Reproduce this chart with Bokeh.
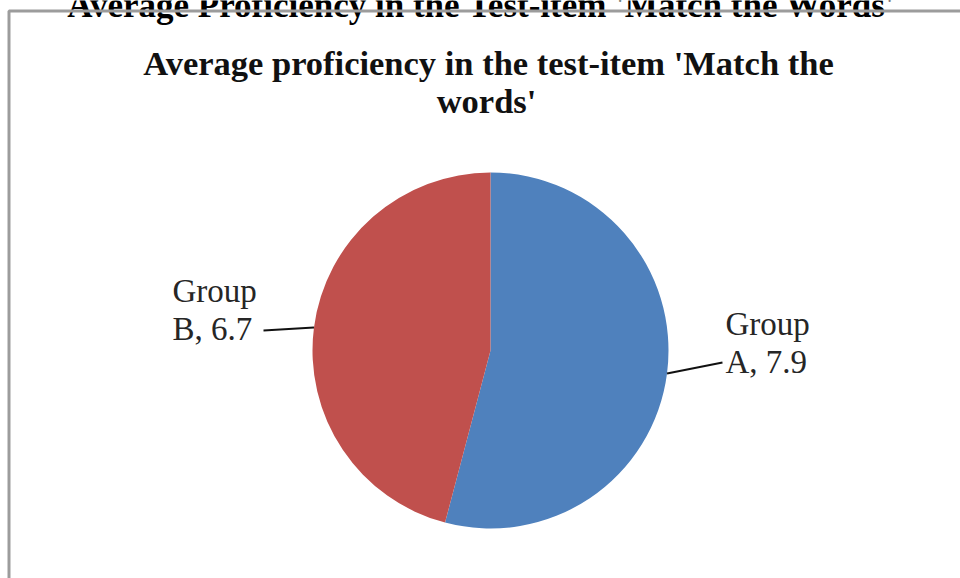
import math
from bokeh.plotting import figure
from bokeh.models import Range1d, ColumnDataSource, BoxAnnotation
from bokeh.core.properties import value
from bokeh.embed import file_html
from bokeh.resources import INLINE

# ---- data ----
categories = ["Group A", "Group B"]
values = [7.9, 6.7]
colors = ["#4F81BD", "#C0504D"]
page_title = "Average Proficiency in the Test-item 'Match the Words'"
chart_title_lines = ["Average proficiency in the test-item 'Match the", "words'"]

W, H = 960, 578
p = figure(width=W, height=H, output_backend="svg", toolbar_location=None,
           x_range=Range1d(0, W), y_range=Range1d(0, H), min_border=0,
           background_fill_color="white", border_fill_color="white")
p.axis.visible = False
p.grid.visible = False
p.outline_line_color = None

# chart frame (left and top border)
p.add_layout(BoxAnnotation(left=8.5, right=1100, bottom=-50, top=H - 10.5,
                           fill_alpha=0, line_color="#9c9c9c", line_alpha=1.0,
                           line_width=3))

# ---- pie ----
cx, cy, r = 490, H - 350, 178
total = sum(values)
starts, ends, mids = [], [], []
a = 90.0
for v in values:
    sweep = 360.0 * v / total
    starts.append(a - sweep)
    ends.append(a)
    mids.append(a - sweep / 2)
    a -= sweep
src = ColumnDataSource(dict(start=[math.radians(s) for s in starts],
                            end=[math.radians(e) for e in ends],
                            color=colors))
p.wedge(x=cx, y=cy, radius=r, start_angle="start", end_angle="end",
        fill_color="color", line_color=None, source=src)

# ---- labels with leader lines ----
label_font = value("Liberation Serif")
label_pos = {"Group A": (725, H - 323, "left", (722, H - 362)),
             "Group B": (172, H - 290, "left", (263, H - 330))}
for cat, v, m in zip(categories, values, mids):
    lx, ly, align, (ex, ey) = label_pos[cat]
    word, letter = cat.split(" ")
    p.text(x=[lx, lx], y=[ly, ly - 38], text=[word, f"{letter}, {v}"],
           text_font=label_font, text_font_size="33px", text_color="#262626",
           text_align=align, text_baseline="alphabetic")
    sx = cx + r * math.cos(math.radians(m))
    sy = cy + r * math.sin(math.radians(m))
    p.line(x=[sx, ex], y=[sy, ey], line_color="#111111", line_width=2)

# ---- titles ----
title_font = value("Liberation Serif")
p.text(x=[481], y=[H - 5], text=[page_title], text_font=title_font,
       text_font_size="35px", text_font_style="bold", text_color="black",
       text_align="center", text_baseline="alphabetic")
p.text(x=[488, 486], y=[H - 62, H - 100], text=chart_title_lines,
       text_font=title_font, text_font_size="34.5px", text_font_style="bold",
       text_color="#111111", text_align="center", text_baseline="alphabetic")

open("out.html", "w").write(file_html(p, INLINE))
